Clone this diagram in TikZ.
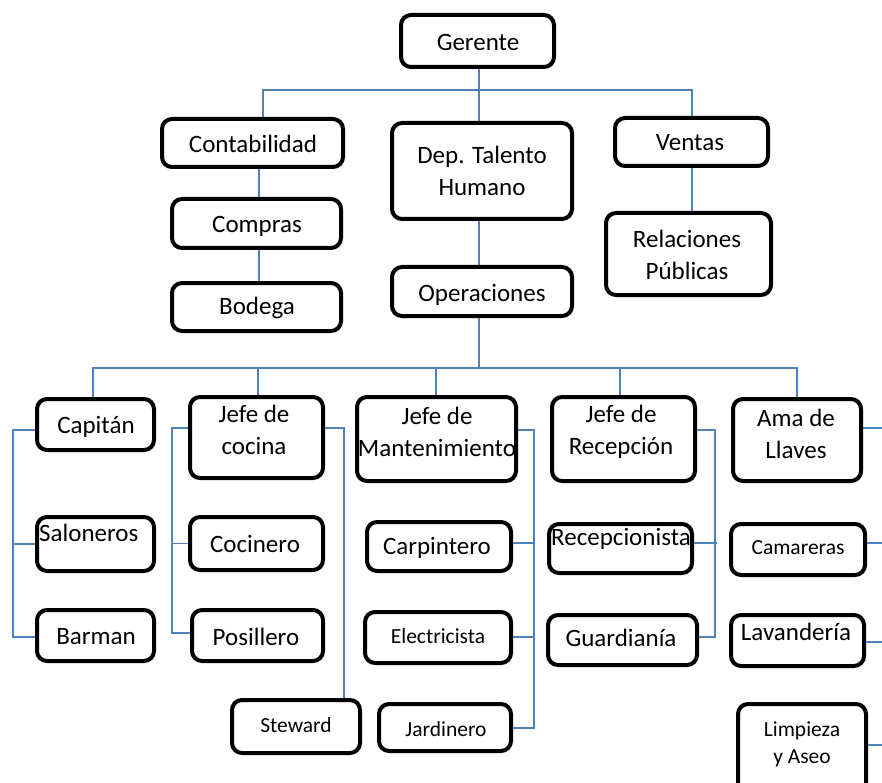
\documentclass[tikz,border=0pt]{standalone}
\usepackage{fontspec}
\setmainfont{Carlito}
\definecolor{linkblue}{RGB}{79,129,189}
% \orgbox{name}{x1}{y1}{x2}{y2}: rounded frame given by its outer corners
\newcommand\orgbox[5]{%
  \node[box, minimum width={#4-#2-4}, minimum height={#5-#3-4}]
    (#1) at ({(#2+#4)/2},{(#3+#5)/2}) {};}
\begin{document}
\begin{tikzpicture}[x=1pt,y=-1pt,
  box/.style={draw=black, line width=4pt, rounded corners=10pt, inner sep=0pt, fill=white},
  txt/.style={font=\fontsize{25}{32}\selectfont, inner sep=0pt, text height=16.2pt, text depth=0pt},
  txtml/.style={font=\fontsize{25}{32}\selectfont, inner sep=0pt, align=center},
  small/.style={font=\fontsize{21.5}{27}\selectfont, inner sep=0pt, text height=14pt, text depth=0pt},
  smallml/.style={font=\fontsize{21.5}{27}\selectfont, inner sep=0pt, align=center},
  link/.style={draw=linkblue, line width=1.5pt}]
\clip (0,0) rectangle (882,783);
\fill[white] (0,0) rectangle (882,783);

% ---------- bus points ----------
\coordinate (topbus) at (479,90);
\coordinate (opbus) at (479,368);
\coordinate (dropA) at (93,368);
\coordinate (dropB) at (258,368);
\coordinate (dropC) at (436,368);
\coordinate (dropD) at (620,368);
\coordinate (dropE) at (797,368);
\coordinate (capbus) at (13,430);
\coordinate (cocbus) at (172,428);
\coordinate (stwbus) at (344,428);
\coordinate (manbus) at (534,430);
\coordinate (recbus) at (715,430);
\coordinate (edgeA) at (882,428);
\coordinate (edgeB) at (882,543);
\coordinate (edgeC) at (882,642);
\coordinate (edgeD) at (882,745);

% ---------- frames ----------
\orgbox{gerente}{399}{13}{556}{69}
\orgbox{contab}{160}{117}{345}{169}
\orgbox{compras}{170}{197}{343}{250}
\orgbox{bodega}{170}{281}{343}{333}
\orgbox{talento}{390}{121}{574}{221}
\orgbox{operac}{390}{265}{574}{318}
\orgbox{ventas}{613}{116}{770}{168}
\orgbox{relac}{604}{211}{773}{297}

\orgbox{capitan}{35}{397}{156}{452}
\orgbox{salon}{35}{515}{156}{573}
\orgbox{barman}{35}{608}{156}{663}
\orgbox{jcocina}{188}{395}{325}{480}
\orgbox{cocinero}{188}{515}{325}{572}
\orgbox{posill}{190}{608}{325}{663}
\orgbox{steward}{230}{698}{362}{755}
\orgbox{jmant}{355}{395}{518}{483}
\orgbox{carpin}{365}{520}{513}{573}
\orgbox{electr}{363}{610}{513}{665}
\orgbox{jardin}{377}{702}{513}{753}
\orgbox{jrecep}{550}{395}{697}{483}
\orgbox{recepc}{547}{522}{694}{575}
\orgbox{guard}{546}{613}{699}{667}
\orgbox{ama}{731}{397}{863}{483}
\orgbox{camar}{729}{522}{867}{577}
\orgbox{lavand}{729}{613}{866}{668}
\orgbox{limpieza}{736}{702}{868}{800}

% ---------- labels ----------
\node[txt] (l-gerente) at (478,42) {Gerente};
\node[txt] (l-contab) at (253,144) {Contabilidad};
\node[txt] (l-compras) at (257,224) {Compras};
\node[txt] (l-bodega) at (257,306) {Bodega};
\node[txtml] (l-talento) at (482,171) {Dep. Talento\\Humano};
\node[txt] (l-operac) at (482,293) {Operaciones};
\node[txt] (l-ventas) at (690,142) {Ventas};
\node[txtml] (l-relac) at (687,255) {Relaciones\\Públicas};

\node[txt] (l-capitan) at (96,425) {Capitán};
\node[txt, anchor=west] (l-salon) at (39,533) {Saloneros};
\node[txt] (l-barman) at (96,636) {Barman};
\node[txtml] (l-jcocina) at (254,430) {Jefe de\\cocina};
\node[txt] (l-cocinero) at (255,544) {Cocinero};
\node[txt] (l-posill) at (256,637) {Posillero};
\node[small] (l-steward) at (296,725) {Steward};
\node[txtml] (l-jmant) at (437,432) {Jefe de\\Mantenimiento};
\node[txt] (l-carpin) at (437,546) {Carpintero};
\node[small] (l-electr) at (438,636) {Electricista};
\node[small] (l-jardin) at (446,729) {Jardinero};
\node[txtml] (l-jrecep) at (621,432) {Jefe de\\Recepción};
\node[txt] (l-recepc) at (621,537) {Recepcionista};
\node[txt] (l-guard) at (621,638) {Guardianía};
\node[txtml] (l-ama) at (796,434) {Ama de\\Llaves};
\node[small] (l-camar) at (798,547) {Camareras};
\node[txt] (l-lavand) at (796,632) {Lavandería};
\node[smallml] (l-limpieza) at (802,744) {Limpieza\\y Aseo};

% ---------- connectors: upper levels ----------
\draw[link] (gerente.south -| topbus) -- (topbus);
\draw[link] (contab.north -| 263,0) |- (topbus) -| (ventas.north -| 692,0);
\draw[link] (topbus) -- (talento.north -| topbus);
\draw[link] (contab.south -| 259,0) -- (compras.north -| 259,0);
\draw[link] (compras.south -| 259,0) -- (bodega.north -| 259,0);
\draw[link] (ventas.south -| 692,0) -- (relac.north -| 692,0);
\draw[link] (talento.south -| topbus) -- (operac.north -| topbus);
\draw[link] (operac.south -| opbus) -- (opbus);

% ---------- connectors: operations bus ----------
\draw[link] (capitan.north -| dropA) -- (dropA) -- (dropE) -- (ama.north -| dropE);
\draw[link] (dropB) -- (jcocina.north -| dropB);
\draw[link] (dropC) -- (jmant.north -| dropC);
\draw[link] (dropD) -- (jrecep.north -| dropD);

% ---------- connectors: Capitán ----------
\draw[link] (capitan.west |- capbus) -- (capbus) |- (barman.west |- 0,637);
\draw[link] (capbus |- salon.west) -- (salon.west);

% ---------- connectors: Jefe de cocina ----------
\draw[link] (jcocina.west |- cocbus) -- (cocbus) |- (posill.west |- 0,633);
\draw[link] (cocbus |- cocinero.west) -- (cocinero.west);
\draw[link] (jcocina.east |- stwbus) -- (stwbus) -- (stwbus |- steward.north);

% ---------- connectors: Jefe de Mantenimiento ----------
\draw[link] (jmant.east |- manbus) -- (manbus) |- (jardin.east |- 0,728);
\draw[link] (carpin.east |- 0,543) -- (manbus |- 0,543);
\draw[link] (electr.east |- 0,637) -- (manbus |- 0,637);

% ---------- connectors: Jefe de Recepción ----------
\draw[link] (jrecep.east |- recbus) -- (recbus) |- (guard.east |- 0,637);
\draw[link] (recepc.east |- 0,543) -- ([xshift=2pt]recbus |- 0,543);

% ---------- connectors: Ama de Llaves (run off to the right) ----------
\draw[link] (ama.east |- edgeA) -- (edgeA);
\draw[link] (camar.east |- edgeB) -- (edgeB);
\draw[link] (lavand.east |- edgeC) -- (edgeC);
\draw[link] (limpieza.east |- edgeD) -- (edgeD);
\end{tikzpicture}
\end{document}
